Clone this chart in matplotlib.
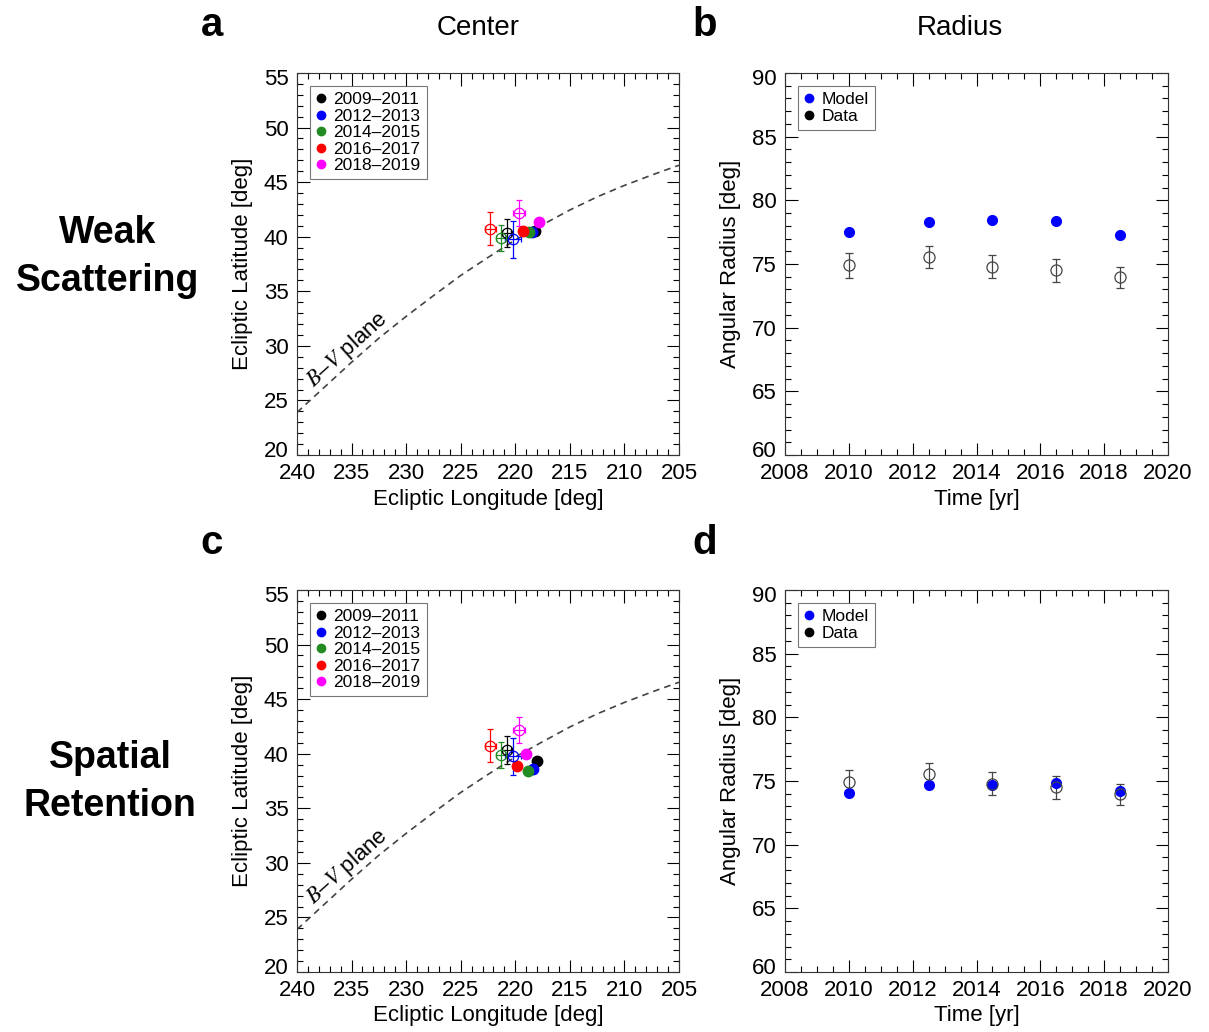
import matplotlib
matplotlib.use('Agg')
import matplotlib.pyplot as plt
import matplotlib.transforms as mtransforms
from matplotlib.lines import Line2D
from matplotlib.ticker import MultipleLocator

plt.rcParams['font.family'] = ['Liberation Sans', 'DejaVu Sans']
plt.rcParams['mathtext.fontset'] = 'stix'

# ---------------------------------------------- data
periods = ['2009–2011', '2012–2013', '2014–2015', '2016–2017', '2018–2019']
period_colors = ['black', 'blue', 'forestgreen', 'red', 'magenta']

# observed ribbon center (open circles)
obs_lon = [220.8, 220.2, 221.3, 222.3, 219.7]
obs_lat = [40.35, 39.75, 39.85, 40.75, 42.15]
obs_lon_err = [0.45, 0.7, 0.45, 0.5, 0.55]
obs_lat_err = [1.25, 1.7, 1.2, 1.55, 1.2]

# model center, weak scattering / spatial retention
weak_lon = [218.15, 218.45, 218.7, 219.25, 217.85]
weak_lat = [40.55, 40.45, 40.45, 40.5, 41.35]
ret_lon = [218.0, 218.35, 218.85, 219.8, 219.0]
ret_lat = [39.3, 38.6, 38.45, 38.85, 40.0]

# B-V plane trace
bv_lon = [240, 237.5, 235, 232.5, 230, 227.5, 225, 222.5, 220, 217.5, 215, 212.5, 210, 207.5, 205]
bv_lat = [23.9, 26.2, 28.5, 30.7, 32.7, 34.6, 36.45, 38.1, 39.7, 41.1, 42.45, 43.65, 44.7, 45.65, 46.55]

# ribbon radius
years = [2010.0, 2012.5, 2014.5, 2016.5, 2018.5]
radius_obs = [74.9, 75.55, 74.8, 74.5, 73.95]
radius_err = [1.0, 0.9, 0.9, 0.9, 0.85]
radius_weak = [77.5, 78.3, 78.45, 78.4, 77.25]
radius_ret = [74.05, 74.65, 74.7, 74.85, 74.25]

W, H = 1209, 1032
fig = plt.figure(figsize=(W / 100, H / 100), dpi=100)


def box(x0, y0, x1, y1):
    return [x0 / W, 1 - y1 / H, (x1 - x0) / W, (y1 - y0) / H]


def style(ax):
    ax.tick_params(which='both', direction='in', top=True, right=True,
                   labelsize=16, width=0.8, pad=6)
    ax.tick_params(which='major', length=9)
    ax.tick_params(which='minor', length=4.5)
    for s in ax.spines.values():
        s.set_linewidth(0.8)
        s.set_color('#333333')
    # pull the end labels of the y axis inside the frame a little
    lo, hi = ax.get_ylim()
    locs = list(ax.get_yticks())
    ticks = ax.yaxis.get_major_ticks(len(locs))
    up = mtransforms.ScaledTranslation(0, 6 / 100, fig.dpi_scale_trans)
    down = mtransforms.ScaledTranslation(0, -4 / 100, fig.dpi_scale_trans)
    for loc, t in zip(locs, ticks):
        if abs(loc - lo) < 1e-6:
            t.label1.set_transform(t.label1.get_transform() + up)
        elif abs(loc - hi) < 1e-6:
            t.label1.set_transform(t.label1.get_transform() + down)


def add_legend(ax, colors, labels):
    handles = [Line2D([], [], marker='o', ls='none', color=c, ms=6) for c in colors]
    leg = ax.legend(handles, labels, loc='upper left', fontsize=12.5, frameon=True,
                    fancybox=False, edgecolor='#555555', handlelength=0.6,
                    handletextpad=0.4, labelspacing=0.08, borderpad=0.35,
                    borderaxespad=0.75)
    leg.get_frame().set_linewidth(0.8)


def center_panel(ax, mod_lon, mod_lat):
    ax.plot(bv_lon, bv_lat, color='#444444', ls=(0, (4, 3)), lw=1.2)
    for i in range(len(periods)):
        ax.errorbar(obs_lon[i], obs_lat[i], xerr=obs_lon_err[i], yerr=obs_lat_err[i],
                    fmt='o', mfc='none', mec=period_colors[i], ecolor=period_colors[i],
                    ms=7.5, mew=0.9, elinewidth=0.9, capsize=2.5, capthick=0.9)
    for i in range(len(periods)):
        ax.plot(mod_lon[i], mod_lat[i], 'o', color=period_colors[i], ms=7.5)
    ax.set_xlim(240, 205)
    ax.set_ylim(20, 55)
    ax.xaxis.set_major_locator(MultipleLocator(5))
    ax.xaxis.set_minor_locator(MultipleLocator(1))
    ax.yaxis.set_major_locator(MultipleLocator(5))
    ax.yaxis.set_minor_locator(MultipleLocator(1))
    ax.set_xlabel('Ecliptic Longitude [deg]', fontsize=16, labelpad=3)
    ax.set_ylabel('Ecliptic Latitude [deg]', fontsize=16, labelpad=8)
    ax.text(235.4, 29.6, r'$\mathbf{\mathit{B}}$–$\mathbf{\mathit{V}}$ plane', fontsize=16,
            rotation=42, ha='center', va='center', rotation_mode='anchor')
    add_legend(ax, period_colors, periods)
    style(ax)


def radius_panel(ax, mod_r):
    ax.errorbar(years, radius_obs, yerr=radius_err, fmt='o', mfc='none',
                mec='#444444', ecolor='#444444', ms=8, mew=0.9,
                elinewidth=0.9, capsize=3, capthick=0.9)
    ax.plot(years, mod_r, 'o', color='blue', ms=7)
    ax.set_xlim(2008, 2020)
    ax.set_ylim(60, 90)
    ax.xaxis.set_major_locator(MultipleLocator(2))
    ax.xaxis.set_minor_locator(MultipleLocator(0.5))
    ax.yaxis.set_major_locator(MultipleLocator(5))
    ax.yaxis.set_minor_locator(MultipleLocator(1))
    ax.set_xlabel('Time [yr]', fontsize=16, labelpad=3)
    ax.set_ylabel('Angular Radius [deg]', fontsize=16, labelpad=8)
    add_legend(ax, ['blue', 'black'], ['Model', 'Data'])
    style(ax)


ax_a = fig.add_axes(box(297, 73, 679, 455))
ax_b = fig.add_axes(box(785, 73, 1168, 455))
ax_c = fig.add_axes(box(297, 590, 679, 972))
ax_d = fig.add_axes(box(785, 590, 1168, 972))

center_panel(ax_a, weak_lon, weak_lat)
radius_panel(ax_b, radius_weak)
center_panel(ax_c, ret_lon, ret_lat)
radius_panel(ax_d, radius_ret)

# panel letters, column titles, row titles
for letter, x, y in [('a', 212, 25), ('b', 705, 25), ('c', 212, 543), ('d', 705, 543)]:
    fig.text(x / W, 1 - y / H, letter, fontsize=29, fontweight='bold', ha='center', va='center')
fig.text(478 / W, 1 - 28 / H, 'Center', fontsize=20, ha='center', va='center')
fig.text(960 / W, 1 - 28 / H, 'Radius', fontsize=20, ha='center', va='center')
fig.text(108 / W, 1 - 257 / H, 'Weak\nScattering', fontsize=27, fontweight='bold',
         ha='center', va='center', linespacing=1.45)
fig.text(110 / W, 1 - 782 / H, 'Spatial\nRetention', fontsize=27, fontweight='bold',
         ha='center', va='center', linespacing=1.45)

fig.savefig('out.png', dpi=100)
